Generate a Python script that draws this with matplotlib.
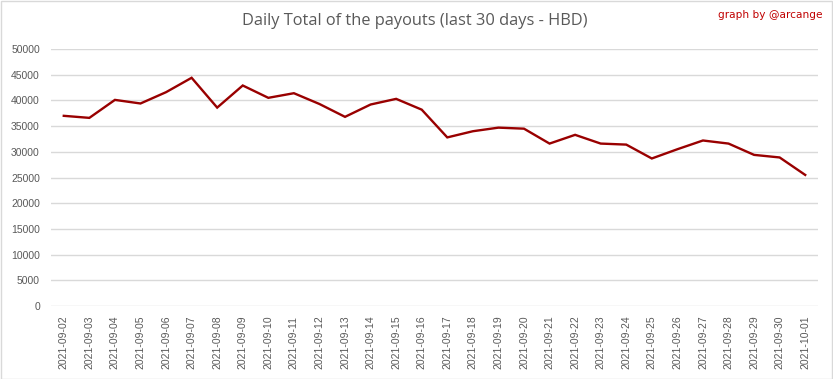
import matplotlib
matplotlib.use("Agg")
import matplotlib.pyplot as plt
from matplotlib.patches import Rectangle

# data
dates = ["2021-09-%02d" % d for d in range(2, 31)] + ["2021-10-01"]
payouts = [37000, 36600, 40100, 39400, 41600, 44400, 38600, 42900, 40500, 41400,
           39300, 36800, 39200, 40300, 38200, 32800, 34000, 34700, 34500, 31600,
           33300, 31600, 31400, 28700, 30500, 32200, 31600, 29400, 28900, 25500]
yticks = list(range(0, 50001, 5000))

W, H = 833, 379
fig = plt.figure(figsize=(W / 100, H / 100), dpi=100)
ax = fig.add_axes([51 / W, 1 - 306 / H, (818 - 51) / W, (306 - 49) / H])

ax.plot(range(len(dates)), payouts, color="#990000", lw=1.7, solid_joinstyle="miter")
ax.set_xlim(-0.5, len(dates) - 0.5)
ax.set_ylim(0, 50000)
ax.set_yticks(yticks)
ax.set_xticks(range(len(dates)))
ax.set_xticklabels(dates, rotation=90)
ax.grid(axis="y", color="#d9d9d9", lw=1)
ax.set_axisbelow(True)
for s in ax.spines.values():
    s.set_visible(False)
ax.tick_params(length=0, colors="#595959", labelsize=7.5, pad=8)
ax.tick_params(axis="x", pad=7)
for lab in ax.get_xticklabels() + ax.get_yticklabels():
    lab.set_family("Liberation Sans")

fig.text(415 / W, 1 - 21 / H, "Daily Total of the payouts (last 30 days - HBD)",
         ha="center", va="center", fontsize=11.8, color="#595959", family="Open Sans")
fig.text(822 / W, 1 - 15 / H, "graph by @arcange", ha="right", va="center",
         fontsize=7.6, color="#c00000")
fig.patches.append(Rectangle((0.5 / W, 0.5 / H), 1 - 1.5 / W, 1 - 1.5 / H,
                             transform=fig.transFigure, fill=False,
                             edgecolor="#d9d9d9", lw=1))
fig.savefig("out.png", dpi=100)
